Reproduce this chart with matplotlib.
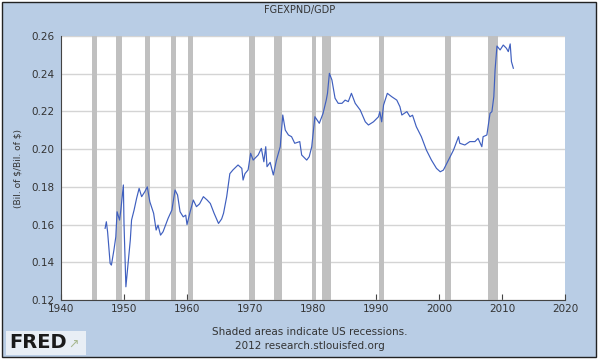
import numpy as np
import matplotlib
matplotlib.use('Agg')
import matplotlib.pyplot as plt
from matplotlib.patches import Rectangle

############################################
# data
############################################
years = [1947.0, 1947.2, 1947.4, 1947.8, 1948.0, 1948.4, 1948.7, 1948.9, 1949.3, 1949.5,
         1949.9, 1950.0, 1950.3, 1950.6, 1951.0, 1951.2, 1951.6, 1952.0, 1952.4, 1952.8,
         1953.3, 1953.7, 1954.1, 1954.7, 1955.1, 1955.4, 1955.8, 1956.2, 1956.7, 1957.0,
         1957.6, 1958.1, 1958.5, 1958.9, 1959.4, 1959.8, 1960.0, 1960.5, 1961.0, 1961.5,
         1962.0, 1962.6, 1963.2, 1963.7, 1964.3, 1965.0, 1965.5, 1965.8, 1966.3, 1966.8,
         1967.3, 1968.1, 1968.7, 1968.9, 1969.2, 1969.7, 1970.1, 1970.5, 1971.3, 1971.8,
         1972.2, 1972.5, 1972.7, 1973.2, 1973.7, 1974.2, 1974.8, 1975.2, 1975.6, 1976.1,
         1976.6, 1977.1, 1977.9, 1978.2, 1979.0, 1979.4, 1979.8, 1980.3, 1981.0, 1981.6,
         1982.1, 1982.3, 1982.6, 1983.0, 1983.5, 1984.0, 1984.6, 1985.1, 1985.6, 1986.1,
         1986.7, 1987.5, 1988.3, 1988.8, 1989.6, 1990.4, 1990.6, 1990.9, 1991.2, 1991.8,
         1992.5, 1993.3, 1993.8, 1994.1, 1994.9, 1995.4, 1995.8, 1996.4, 1997.2, 1998.0,
         1998.8, 1999.6, 2000.2, 2000.7, 2001.5, 2002.3, 2003.1, 2003.3, 2004.1, 2004.9,
         2005.7, 2006.2, 2006.8, 2007.0, 2007.6, 2008.1, 2008.4, 2008.7, 2008.9, 2009.2,
         2009.7, 2010.2, 2010.7, 2011.0, 2011.3, 2011.5, 2011.8]
ratio = [0.158, 0.1615, 0.156, 0.1394, 0.1385, 0.1465, 0.1535, 0.1668, 0.1624, 0.1677,
         0.181, 0.1606, 0.127, 0.1376, 0.1518, 0.1624, 0.1677, 0.1739, 0.1792, 0.1748,
         0.1774, 0.180, 0.1721, 0.166, 0.1571, 0.1597, 0.1544, 0.1562, 0.1606, 0.1633,
         0.1677, 0.1783, 0.1757, 0.1668, 0.1641, 0.165, 0.160, 0.1668, 0.173, 0.1695,
         0.171, 0.1748, 0.173, 0.1712, 0.166, 0.1606, 0.163, 0.166, 0.1748, 0.187,
         0.189, 0.1916, 0.1898, 0.1836, 0.187, 0.189, 0.1978, 0.1942, 0.1969, 0.2004,
         0.1933, 0.2013, 0.1907, 0.193, 0.1863, 0.1942, 0.2013, 0.2181, 0.2101, 0.2075,
         0.2066, 0.2031, 0.204, 0.1969, 0.1942, 0.196, 0.2013, 0.2172, 0.2137, 0.219,
         0.226, 0.2296, 0.2402, 0.2367, 0.227, 0.2243, 0.2243, 0.226, 0.2252, 0.2296,
         0.2243, 0.2207, 0.2145, 0.2128, 0.2145, 0.2172, 0.2199, 0.2145, 0.2234, 0.2296,
         0.2278, 0.226, 0.2225, 0.2181, 0.2199, 0.2172, 0.218, 0.2119, 0.2066, 0.1995,
         0.1942, 0.1898, 0.188, 0.1889, 0.1942, 0.1995, 0.2066, 0.2031, 0.2022, 0.204,
         0.204, 0.2057, 0.2013, 0.2066, 0.2075, 0.219, 0.2199, 0.2278, 0.242, 0.2547,
         0.2526, 0.2552, 0.2535, 0.2517, 0.2558, 0.2464, 0.2429]

rec_start = [1944.9, 1948.7, 1953.3, 1957.5, 1960.1, 1969.8, 1973.8, 1979.9, 1981.4, 1990.4, 2001.0, 2007.8]
rec_end = [1945.7, 1949.7, 1954.2, 1958.2, 1961.0, 1970.8, 1975.1, 1980.4, 1982.8, 1991.2, 2001.9, 2009.4]

xticks = [1940, 1950, 1960, 1970, 1980, 1990, 2000, 2010, 2020]
yticks = [0.12, 0.14, 0.16, 0.18, 0.20, 0.22, 0.24, 0.26]

############################################
# figure
############################################
bg = '#b9cde5'
fig = plt.figure(figsize=(6, 3.61), dpi=100)
fig.patch.set_facecolor('white')

# blue panel with black frame, kept behind the axes
fig.patches.append(Rectangle((2/600, 4/361), 594/600, 355/361, transform=fig.transFigure,
                             facecolor=bg, edgecolor='#222222', linewidth=1.0, zorder=-10))

ax = fig.add_axes([61/600, 61/361, 504/600, 264/361])
ax.set_facecolor('white')

for s, e in zip(rec_start, rec_end):
    ax.axvspan(s, e, color='#c0c0c0', lw=0, zorder=1)

ax.plot(years, ratio, color='#3f5fbf', lw=0.85, zorder=3)

ax.set_xlim(1940, 2020)
ax.set_ylim(0.12, 0.26)
ax.set_xticks(xticks)
ax.set_yticks(yticks)
ax.set_yticklabels(['%.2f' % v for v in yticks])
ax.yaxis.grid(True, color='#d4d4d4', lw=1.0, zorder=0)
ax.set_axisbelow(True)
for sp in ['top', 'right']:
    ax.spines[sp].set_visible(False)
for sp in ['left', 'bottom']:
    ax.spines[sp].set_color('#444444')
    ax.spines[sp].set_linewidth(0.8)
ax.tick_params(axis='x', direction='in', length=4, colors='#444444', labelsize=7.5, pad=3,
               labelcolor='#333333')
ax.tick_params(axis='y', direction='in', length=0, colors='#444444', labelsize=7.5, pad=5,
               labelcolor='#333333')
ax.set_ylabel(r'(Bil. of \$/Bil. of \$)', fontsize=6.5, color='#333333', labelpad=6)

fig.text(0.5, 1 - 10/361, 'FGEXPND/GDP', ha='center', va='center', fontsize=7, color='#333333')
fig.text(310/600, 1 - 332/361, 'Shaded areas indicate US recessions.', ha='center', va='center',
         fontsize=7.5, color='#333333')
fig.text(310/600, 1 - 346/361, '2012 research.stlouisfed.org', ha='center', va='center',
         fontsize=7.5, color='#333333')

# FRED logo
fig.patches.append(Rectangle((6/600, 6/361), 80/600, 24/361, transform=fig.transFigure,
                             facecolor='#e8eef5', edgecolor='none', zorder=1))
fig.text(9/600, 1 - 343/361, 'FRED', ha='left', va='center', fontsize=14, fontweight='heavy',
         color='#1a1a1a')
fig.text(68/600, 1 - 344/361, '\u2197', ha='left', va='center', fontsize=9, color='#a8b890')

fig.savefig('out.png', dpi=100)
